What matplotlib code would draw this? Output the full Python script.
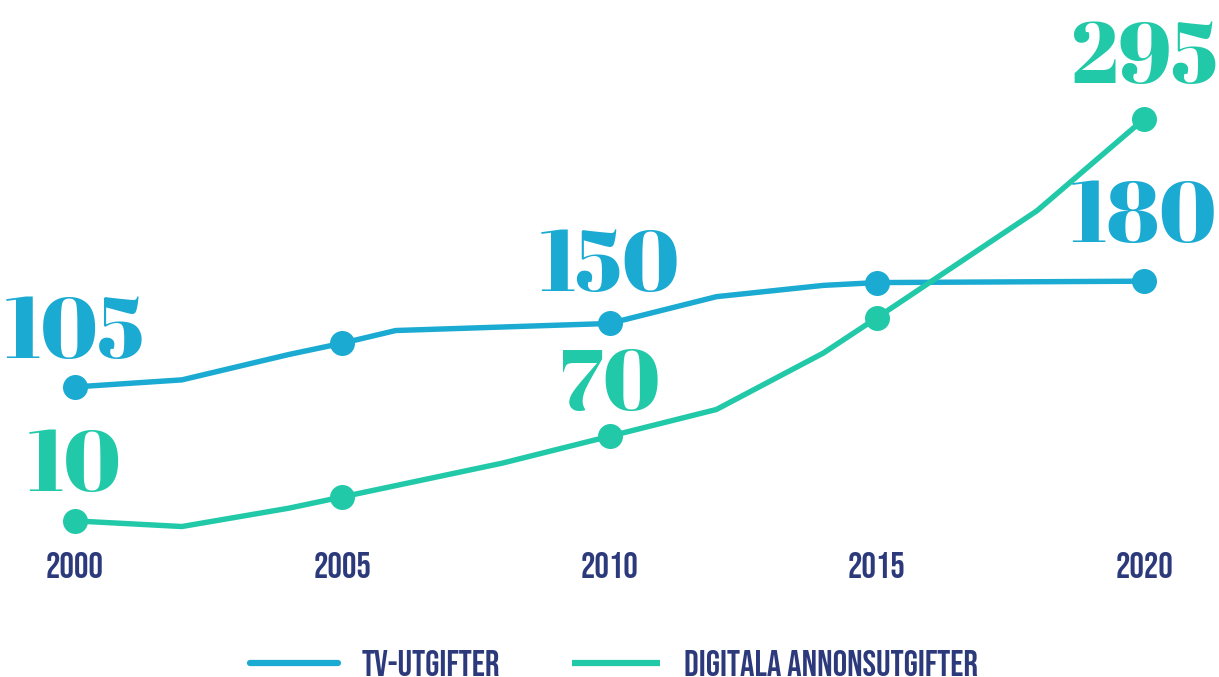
import matplotlib
matplotlib.use("Agg")
import matplotlib.pyplot as plt
from matplotlib.lines import Line2D

# data
tv_years = [2000, 2002, 2004, 2005, 2006, 2010, 2012, 2014, 2015, 2020]
tv_values = [105, 110, 128, 136, 145, 150, 169, 177, 179, 180]

dig_years = [2000, 2002, 2004, 2005, 2008, 2010, 2012, 2014, 2015, 2018, 2020]
dig_values = [10, 6, 19, 27, 51, 70, 89, 129, 154, 230, 295]

dot_years = [2000, 2005, 2010, 2015, 2020]
tick_years = [2000, 2005, 2010, 2015, 2020]
label_years = [2000, 2010, 2020]

series_names = ["TV-UTGIFTER", "DIGITALA ANNONSUTGIFTER"]

BLUE = "#1AAAD2"
GREEN = "#21C9A8"
NAVY = "#2C3A7C"

# vertical offsets (pixels) of the big number above each dot
tv_label_dy = [29, 32, 39]
dig_label_dy = [30, 26, 36]

NUM_FONT = ["Abril Fatface", "Playfair Display", "DejaVu Serif"]
TICK_FONT = ["Bebas Neue", "Oswald", "Saira Extra Condensed", "DejaVu Sans"]

fig = plt.figure(figsize=(12.19, 6.77), dpi=100)
ax = fig.add_axes([0, 132 / 677, 1, 545 / 677])
ax.set_xlim(1998.597, 2021.403)
ax.set_ylim(-7.1, 379.4)
for s in ax.spines.values():
    s.set_visible(False)
ax.set_yticks([])
ax.set_xticks(tick_years)
ax.set_xticklabels([str(y) for y in tick_years], fontsize=26, color=NAVY,
                   family=TICK_FONT)
ax.tick_params(axis="x", length=0, pad=5)


def draw_series(years, values, color, dy_list):
    ax.plot(years, values, color=color, lw=3.9, solid_joinstyle="miter",
            zorder=2, clip_on=False)
    dv = [values[years.index(y)] for y in dot_years]
    ax.plot(dot_years, dv, "o", ms=18, color=color, mec="none", zorder=3,
            clip_on=False)
    for y, dy in zip(label_years, dy_list):
        v = values[years.index(y)]
        ax.annotate(str(v), (y, v), xytext=(0, dy), textcoords="offset pixels",
                    ha="center", va="baseline", fontsize=62,
                    family=NUM_FONT, color=color)


draw_series(tv_years, tv_values, BLUE, tv_label_dy)
draw_series(dig_years, dig_values, GREEN, dig_label_dy)

handles = [Line2D([], [], color=BLUE, lw=4.5, solid_capstyle="round"),
           Line2D([], [], color=GREEN, lw=4.5, solid_capstyle="butt")]
leg = fig.legend(handles, series_names, loc="center",
                 bbox_to_anchor=(614 / 1219, 1 - 663 / 677), ncol=2,
                 frameon=False, handlelength=2.44, handletextpad=0.66,
                 columnspacing=2.0, prop={"family": TICK_FONT, "size": 26})
for t in leg.get_texts():
    t.set_color(NAVY)

fig.savefig("out.png", dpi=100)
